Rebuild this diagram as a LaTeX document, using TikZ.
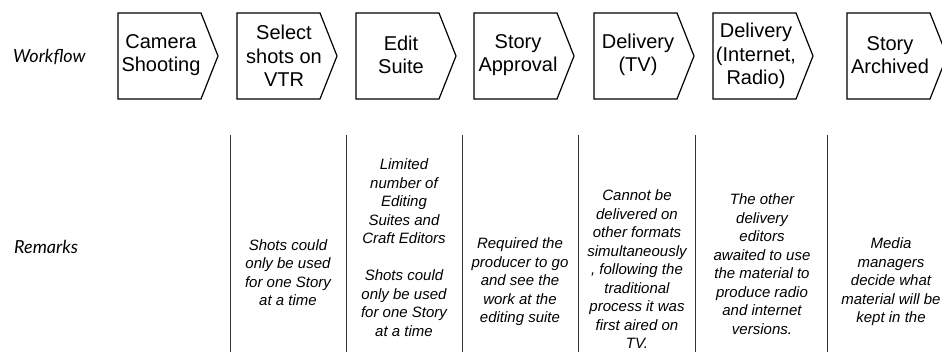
\documentclass[tikz,border=0pt]{standalone}
\usepackage{fontspec}
\setmainfont{Liberation Sans}
\newfontfamily\rowfont{Lato}
\begin{document}
\begin{tikzpicture}[x=1pt,y=-1pt,
  chev/.style={draw=black,line width=1.2pt,line join=miter},
  steptext/.style={font=\fontsize{20}{23.5}\selectfont,align=center,inner sep=0pt},
  remark/.style={font=\fontsize{15}{18.5}\selectfont\itshape,align=center,inner sep=0pt},
  rowlabel/.style={font=\rowfont\itshape\fontsize{18}{21}\selectfont,anchor=west,inner sep=0pt},
  sep/.style={draw=black!80,line width=0.9pt}]
\useasboundingbox (0,0) rectangle (942,352);
% chevrons
\foreach \L in {118,237,356,474,594,713,847}{
  \draw[chev] (\L,13) -- ({\L+83},13) -- ({\L+100},56) -- ({\L+83},99) -- (\L,99) -- cycle;
}
\node[steptext] (s1) at (161,55) {Camera\\Shooting};
\node[steptext] (s2) at (284,56) {Select\\shots on\\VTR};
\node[steptext] (s3) at (401,55) {Edit\\Suite};
\node[steptext] (s4) at (518,55) {Story\\Approval};
\node[steptext] (s5) at (638,55) {Delivery\\(TV)};
\node[steptext] (s6) at (756,56) {Delivery\\(Internet,\\Radio)};
\node[steptext] (s7) at (890,55) {Story\\Archived};
% row labels
\node[rowlabel] (wf) at (13,57) {Workflow};
\node[rowlabel] (rm) at (14,247) {Remarks};
% separators
\foreach \x in {230,346,462,578,695,827}{
  \draw[sep] (\x,135) -- (\x,352);
}
% remarks
\node[remark] (r2) at (288,272.5) {Shots could\\only be used\\for one Story\\at a time};
\node[remark] (r3) at (404,247.5) {Limited\\number of\\Editing\\Suites and\\Craft Editors\\[18.5pt]Shots could\\only be used\\for one Story\\at a time};
\node[remark] (r4) at (520,282) {Required the\\producer to go\\and see the\\work at the\\editing suite};
\node[remark] (r5) at (637,269.5) {Cannot be\\delivered on\\other formats\\simultaneously\\, following the\\traditional\\process it was\\first aired on\\TV.};
\node[remark] (r6) at (762,264) {The other\\delivery\\editors\\awaited to use\\the material to\\produce radio\\and internet\\versions.};
\node[remark] (r7) at (891,282) {Media\\managers\\decide what\\material will be\\kept in the};
\end{tikzpicture}
\end{document}
